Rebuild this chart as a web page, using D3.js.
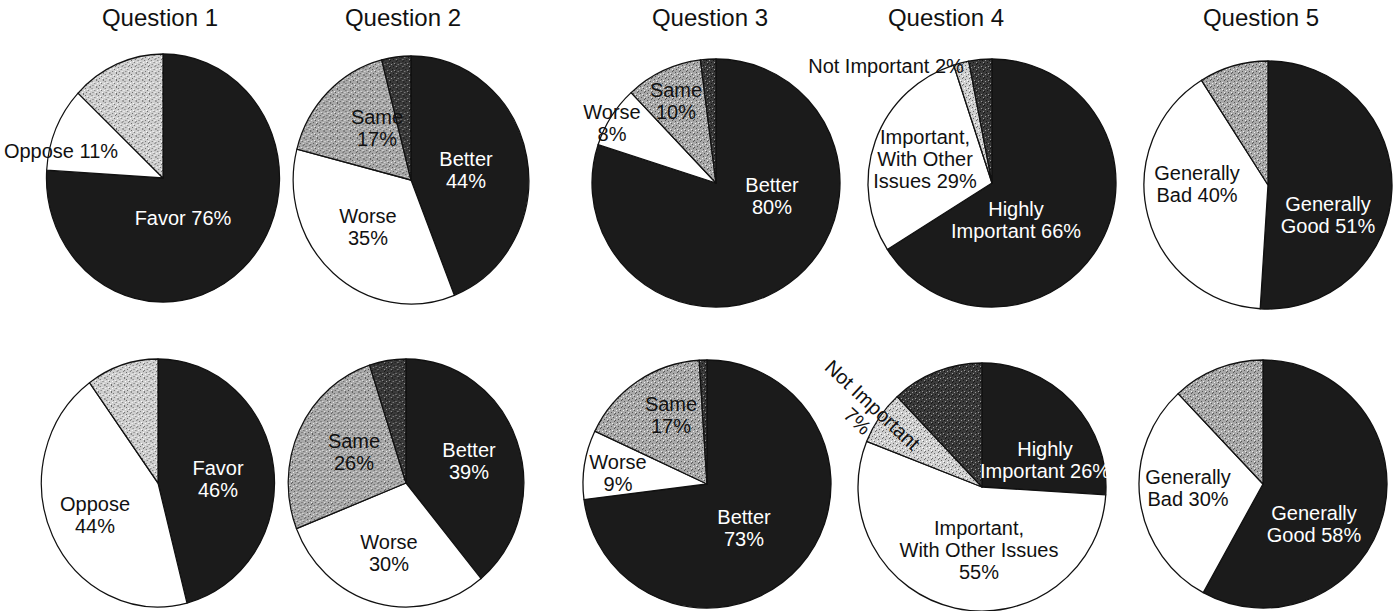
<!DOCTYPE html>
<html>
<head>
<meta charset="utf-8">
<script src="https://cdn.jsdelivr.net/npm/d3@7"></script>
<style>
    html, body { margin: 0; padding: 0; background: #fff; }
    svg { display: block; }
    text { font-family: "Liberation Sans", Arial, Helvetica, sans-serif; }
</style>
</head>
<body>
<svg id="chart" width="1398" height="611"></svg>
<script>
// --- Data ---
const titles = ["Question 1", "Question 2", "Question 3", "Question 4", "Question 5"];

const q1Labels = ["Favor", "Oppose", ""];
const q1Top = [76, 11, 13];
const q1Bottom = [46, 44, 10];

const q2Labels = ["Better", "Worse", "Same", ""];
const q2Top = [44, 35, 17, 4];
const q2Bottom = [39, 30, 26, 5];

const q3Labels = ["Better", "Worse", "Same", ""];
const q3Top = [80, 8, 10, 2];
const q3Bottom = [73, 9, 17, 1];

const q4Labels = ["Highly Important", "Important, With Other Issues", "Not Important", ""];
const q4Top = [66, 29, 2, 3];
const q4Bottom = [26, 55, 7, 12];

const q5Labels = ["Generally Good", "Generally Bad", ""];
const q5Top = [51, 40, 9];
const q5Bottom = [58, 30, 12];

const labelSets = [q1Labels, q2Labels, q3Labels, q4Labels, q5Labels];
const topValues = [q1Top, q2Top, q3Top, q4Top, q5Top];
const bottomValues = [q1Bottom, q2Bottom, q3Bottom, q4Bottom, q5Bottom];

// --- Layout (positions only) ---
const radius = 124;
const lineHeight = 22;
const titleX = [160, 403, 710, 946, 1261];
const squeeze = [0.94, 0.95, 1, 1, 1];   // the scanned pies on the left are a bit narrow
const topCenters = [[163, 178], [411, 180], [716, 183], [992, 183], [1268, 185]];
const bottomCenters = [[158, 483], [406, 483], [707, 484], [982, 487], [1263, 484]];
const grayStyle = ["light", "mid", "mid", "light", "mid"];

// label offsets from pie centre; w = words per line
const topLayout = [
    [{ dx: 20, dy: 40, w: [2] }, { dx: -102, dy: -27, w: [2] }, null],
    [{ dx: 55, dy: -10, w: [1, 1] }, { dx: -43, dy: 47, w: [1, 1] }, { dx: -34, dy: -52, w: [1, 1] }, null],
    [{ dx: 56, dy: 13, w: [1, 1] }, { dx: -104, dy: -60, w: [1, 1] }, { dx: -40, dy: -82, w: [1, 1] }, null],
    [{ dx: 24, dy: 37, w: [1, 2] }, { dx: -67, dy: -24, w: [1, 2, 2] }, { dx: -106, dy: -117, w: [3] }, null],
    [{ dx: 60, dy: 30, w: [1, 2] }, { dx: -71, dy: -1, w: [1, 2] }, null]
];
const bottomLayout = [
    [{ dx: 60, dy: -4, w: [1, 1] }, { dx: -63, dy: 32, w: [1, 1] }, null],
    [{ dx: 63, dy: -22, w: [1, 1] }, { dx: -17, dy: 70, w: [1, 1] }, { dx: -52, dy: -31, w: [1, 1] }, null],
    [{ dx: 37, dy: 44, w: [1, 1] }, { dx: -89, dy: -11, w: [1, 1] }, { dx: -36, dy: -69, w: [1, 1] }, null],
    [{ dx: 63, dy: -27, w: [1, 2] }, { dx: -3, dy: 63, w: [1, 3, 1] }, { dx: -117, dy: -74, w: [2, 1], rot: 43 }, null],
    [{ dx: 51, dy: 40, w: [1, 2] }, { dx: -75, dy: 4, w: [1, 2] }, null]
];

const svg = d3.select("#chart");
const defs = svg.append("defs");

// stipple textures for the grey slices
function addStipple(id, base, darkDot, lightDot) {
    const p = defs.append("pattern")
        .attr("id", id)
        .attr("width", 7).attr("height", 7)
        .attr("patternUnits", "userSpaceOnUse");
    p.append("rect").attr("width", 7).attr("height", 7).attr("fill", base);
    [[1, 1], [4, 3], [2, 5], [6, 6], [5, 0]].forEach(([x, y]) => {
        p.append("rect").attr("x", x).attr("y", y).attr("width", 1).attr("height", 1).attr("fill", darkDot);
    });
    [[0, 3], [3, 2], [5, 5]].forEach(([x, y]) => {
        p.append("rect").attr("x", x).attr("y", y).attr("width", 1).attr("height", 1).attr("fill", lightDot);
    });
}
addStipple("st-light", "#cfcfcf", "#6a6a6a", "#ffffff");
addStipple("st-mid", "#a9a9a9", "#555555", "#ececec");
addStipple("st-dark", "#3a3a3a", "#151515", "#9a9a9a");

function sliceFill(i, col) {
    if (i === 0) return "#1b1b1b";
    if (i === 1) return "#ffffff";
    if (i === 2) return `url(#st-${grayStyle[col]})`;
    return "url(#st-dark)";
}

const pie = d3.pie().sort(null).value(d => d);
const arc = d3.arc().innerRadius(0).outerRadius(radius);

// --- Titles ---
svg.selectAll(".title")
    .data(titles)
    .enter()
    .append("text")
    .attr("class", "title")
    .attr("x", (d, i) => titleX[i])
    .attr("y", 26)
    .attr("text-anchor", "middle")
    .attr("font-size", 24)
    .attr("fill", "#111")
    .text(d => d);

function drawPie(values, labels, center, layout, col) {
    const g = svg.append("g").attr("transform", `translate(${center[0]},${center[1]})`);

    g.append("g")
        .attr("transform", `scale(${squeeze[col]},1)`)
        .selectAll("path")
        .data(pie(values))
        .enter()
        .append("path")
        .attr("d", arc)
        .attr("fill", (d, i) => sliceFill(i, col))
        .attr("stroke", "#111")
        .attr("stroke-width", 1.3)
        .attr("stroke-linejoin", "round");

    values.forEach((v, i) => {
        const lay = layout[i];
        if (!lay || !labels[i]) return;
        const words = `${labels[i]} ${v}%`.split(" ");
        const lines = [];
        let k = 0;
        lay.w.forEach(n => { lines.push(words.slice(k, k + n).join(" ")); k += n; });

        const t = g.append("text")
            .attr("transform", `translate(${lay.dx},${lay.dy})` + (lay.rot ? ` rotate(${lay.rot})` : ""))
            .attr("text-anchor", "middle")
            .attr("dominant-baseline", "central")
            .attr("font-size", 20)
            .attr("fill", i === 0 ? "#ffffff" : "#111");
        lines.forEach((line, j) => {
            t.append("tspan")
                .attr("x", 0)
                .attr("y", (j - (lines.length - 1) / 2) * lineHeight)
                .text(line);
        });
    });
}

for (let c = 0; c < 5; c++) {
    drawPie(topValues[c], labelSets[c], topCenters[c], topLayout[c], c);
    drawPie(bottomValues[c], labelSets[c], bottomCenters[c], bottomLayout[c], c);
}
</script>
</body>
</html>
